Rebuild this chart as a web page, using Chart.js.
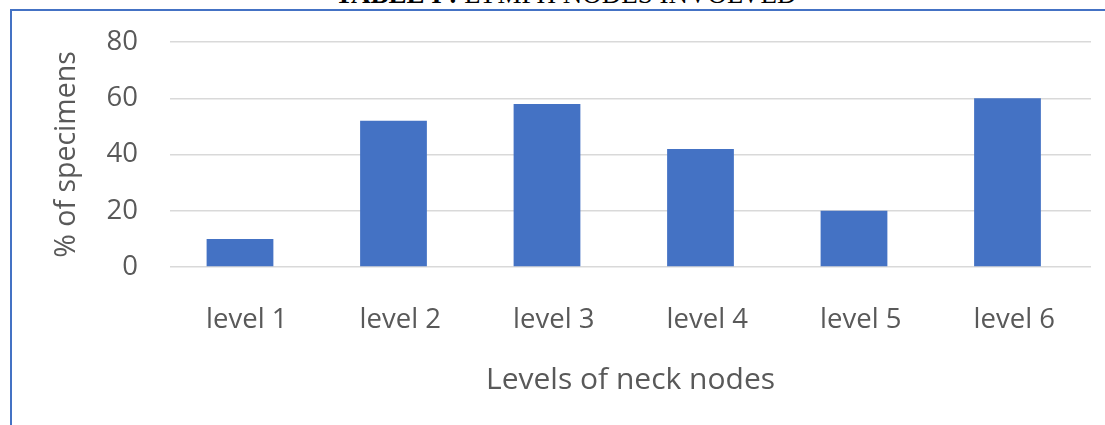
<!DOCTYPE html>
<html>
<head>
<meta charset="utf-8">
<script src="https://cdn.jsdelivr.net/npm/chart.js@4.4.1/dist/chart.umd.min.js"></script>
<style>
    html, body { margin: 0; padding: 0; background: #ffffff; }
    body { width: 1105px; height: 425px; position: relative; overflow: hidden; }
    .frame {
        position: absolute; left: 10px; top: 9px; right: -4px; bottom: -4px;
        border-left: 2px solid #4472C4; border-top: 2px solid #4472C4;
    }
    .caption {
        position: absolute; left: 335px; top: -19px; white-space: nowrap;
        font-family: "Liberation Serif", "Times New Roman", serif; font-size: 27px;
        line-height: 27px; color: #000;
    }
    .caption b { font-weight: bold; }
    #wrap { position: absolute; left: 0; top: 0; width: 1105px; height: 425px; }
</style>
</head>
<body>
<div class="caption"><b>TABLE I :</b> LYMPH NODES INVOLVED</div>
<div class="frame"></div>
<div id="wrap"><canvas id="nodesChart"></canvas></div>
<script>
// chart values
const levels = ['level 1', 'level 2', 'level 3', 'level 4', 'level 5', 'level 6'];
const specimenPct = [10, 52, 58, 42, 20, 60];
const yTicks = [0, 20, 40, 60, 80];

const textGrey = '#595959';
const barBlue = '#4472C4';

// in the source the bars sit a little left of the category centre
// (hidden second series overlapping in Excel), so the bars use their own
// hidden linear axis, shifted by a fraction of one category
const barShift = 0.044;

// drop the half-label paddings so the plot area sits where we put it
function noScalePadding(scale) {
    scale.paddingTop = 0;
    scale.paddingBottom = 0;
    scale.paddingLeft = 0;
    scale.paddingRight = 0;
}

const ctx = document.getElementById('nodesChart');
new Chart(ctx, {
    type: 'bar',
    data: {
        labels: levels,
        datasets: [{
            label: '% of specimens',
            data: specimenPct.map((v, i) => ({ x: i, y: v })),
            xAxisID: 'xBars',
            backgroundColor: barBlue,
            borderWidth: 0,
            barPercentage: 1,
            categoryPercentage: 0.435
        }]
    },
    options: {
        responsive: true,
        maintainAspectRatio: false,
        animation: false,
        devicePixelRatio: 1,
        layout: {
            padding: { left: 50, top: 42, right: 14, bottom: 27 }
        },
        plugins: {
            legend: { display: false },
            tooltip: { enabled: false }
        },
        scales: {
            x: {
                type: 'category',
                labels: levels,
                offset: true,
                grid: { display: false, offset: true },
                border: { display: false },
                ticks: {
                    color: textGrey,
                    padding: 29,
                    maxRotation: 0,
                    font: { family: 'Open Sans', size: 27.5 }
                },
                title: {
                    display: true,
                    text: 'Levels of neck nodes',
                    color: textGrey,
                    padding: { top: 29, bottom: 0 },
                    font: { family: 'Open Sans', size: 30 }
                },
                afterFit: (scale) => {
                    scale.height = 131;
                    noScalePadding(scale);
                }
            },
            xBars: {
                type: 'linear',
                display: false,
                offset: false,
                grid: { display: false, offset: false },
                min: -0.5 + barShift,
                max: levels.length - 0.5 + barShift,
                // one tick per level so the bar width follows the category step
                afterBuildTicks: (scale) => {
                    scale.ticks = levels.map((_, i) => ({ value: i }));
                },
                afterFit: noScalePadding
            },
            y: {
                min: yTicks[0],
                max: yTicks[yTicks.length - 1],
                afterBuildTicks: (scale) => {
                    scale.ticks = yTicks.map(v => ({ value: v }));
                },
                grid: {
                    color: '#D9D9D9',
                    lineWidth: 1.5,
                    drawTicks: false
                },
                border: { display: false },
                ticks: {
                    color: textGrey,
                    padding: 32,
                    font: { family: 'Open Sans', size: 27.5 }
                },
                title: {
                    display: true,
                    text: '% of specimens',
                    color: textGrey,
                    padding: 0,
                    font: { family: 'Open Sans', size: 28.5 }
                },
                afterFit: (scale) => {
                    scale.width = 120;
                    noScalePadding(scale);
                }
            }
        }
    }
});
</script>
</body>
</html>
